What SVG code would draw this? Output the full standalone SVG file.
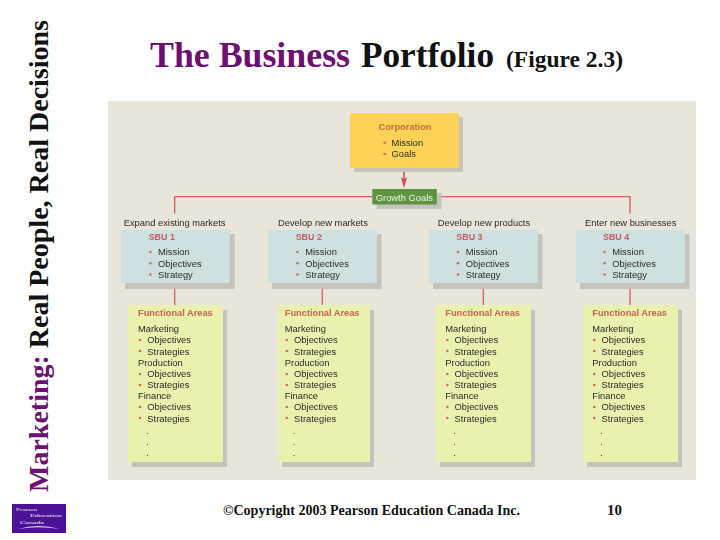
<svg xmlns="http://www.w3.org/2000/svg" width="720" height="540" viewBox="0 0 720 540">
<style>
.a{font-family:"Liberation Sans",Arial,sans-serif;font-size:9.35px;fill:#2b2b2b}
.h{font-family:"Liberation Sans",Arial,sans-serif;font-size:9.25px;font-weight:bold;fill:#c9654f}
.s{font-family:"Liberation Sans",Arial,sans-serif;font-size:8.9px;font-weight:bold;fill:#c95a64}
.t{font-family:"Liberation Serif","Times New Roman",serif;font-weight:bold}
.p{fill:#6e0f72}
.k{fill:#111}
.sh{fill:#c4c4bc}
.sbu{fill:#cfe0e0}
.fa{fill:#eaf0ae}
.b{fill:#d0705a}
.l{fill:none;stroke:#d6605c;stroke-width:1.3}
.lg{font-family:"Liberation Serif",serif;font-size:5px;fill:#eee}
</style>
<defs>
<filter id="soft" x="0" y="0" width="100%" height="100%"><feGaussianBlur stdDeviation="0.35"/></filter>
<g id="sbuBody">
<circle class="b" cx="0" cy="0" r="1.3"/><circle class="b" cx="0" cy="11.3" r="1.3"/><circle class="b" cx="0" cy="22.5" r="1.3"/>
<text class="a" x="7.7" y="3.2">Mission</text><text class="a" x="7.7" y="14.6">Objectives</text><text class="a" x="7.7" y="25.8">Strategy</text>
</g>
<g id="faBody">
<text class="h" x="0" y="0">Functional Areas</text>
<text class="a" x="0" y="16">Marketing</text>
<circle class="b" cx="2" cy="24" r="1.3"/><text class="a" x="9.300" y="27.300">Objectives</text>
<circle class="b" cx="2" cy="35" r="1.3"/><text class="a" x="9.300" y="38.500">Strategies</text>
<text class="a" x="0" y="49.800">Production</text>
<circle class="b" cx="2" cy="58" r="1.3"/><text class="a" x="9.300" y="61.200">Objectives</text>
<circle class="b" cx="2" cy="69" r="1.3"/><text class="a" x="9.300" y="72">Strategies</text>
<text class="a" x="0" y="83.300">Finance</text>
<circle class="b" cx="2" cy="91" r="1.3"/><text class="a" x="9.300" y="94.300">Objectives</text>
<circle class="b" cx="2" cy="102" r="1.3"/><text class="a" x="9.300" y="105.500">Strategies</text>
<text class="a" x="8" y="118">.</text><text class="a" x="8" y="129">.</text><text class="a" x="8" y="140">.</text>
</g>
</defs>
<rect width="720" height="540" fill="#fff"/>
<g id="header">
<text class="t" transform="translate(48 492) rotate(-90)" font-size="27" textLength="472" lengthAdjust="spacingAndGlyphs"><tspan class="p">Marketing:</tspan><tspan class="k"> Real People, Real Decisions</tspan></text>
<text class="t p" x="150" y="66.500" font-size="36" textLength="200" lengthAdjust="spacingAndGlyphs">The Business</text>
<text class="t k" x="361" y="66.500" font-size="36" textLength="133" lengthAdjust="spacingAndGlyphs">Portfolio</text>
<text class="t k" x="506" y="66.500" font-size="23" textLength="117" lengthAdjust="spacingAndGlyphs">(Figure 2.3)</text>
</g>
<g filter="url(#soft)">
<rect id="panel" x="108" y="101" width="588" height="379" fill="#e8e6da"/>
<g id="connectors">
<path class="l" d="M174.700 213.500V196.700H630V213.500"/>
<path class="l" d="M174.700 283V305M322.300 283V305M483.300 283V305M630 283V305"/>
<path d="M404 168V180" fill="none" stroke="#b9505c" stroke-width="1.5"/>
<path d="M400.800 177L404 179.500L407.200 177L404 188Z" fill="#cf4a55"/>
</g>
<g id="corporation">
<rect class="sh" x="354" y="117" width="109" height="55"/>
<rect x="350" y="113" width="109" height="55" fill="#fdd257"/>
<text class="h" x="378.500" y="130" style="fill:#c9683f">Corporation</text>
<circle class="b" cx="384.700" cy="142.700" r="1.3"/><circle class="b" cx="384.700" cy="154" r="1.3"/>
<text class="a" x="391.500" y="146">Mission</text><text class="a" x="391.500" y="157.300">Goals</text>
</g>
<g id="growth-goals">
<rect class="sh" x="376.500" y="193" width="65" height="16"/>
<rect x="372.300" y="189" width="64.500" height="15.500" fill="#5c9440"/>
<text x="375.800" y="200.600" font-family="'Liberation Sans',Arial,sans-serif" font-size="9.350" fill="#f2f5e8">Growth Goals</text>
</g>
<g id="sbu1"><text class="a" x="123.700" y="225.500">Expand existing markets</text><rect class="sh" x="125" y="234" width="109.500" height="55"/><rect class="sbu" x="121" y="230" width="109" height="53" rx="2"/><text class="s" x="148.700" y="240">SBU 1</text><use href="#sbuBody" x="150.300" y="252"/></g>
<g id="sbu2"><text class="a" x="278" y="225.500">Develop new markets</text><rect class="sh" x="272" y="234" width="109.500" height="55"/><rect class="sbu" x="268" y="230" width="109" height="53" rx="2"/><text class="s" x="295.700" y="240">SBU 2</text><use href="#sbuBody" x="297.500" y="252"/></g>
<g id="sbu3"><text class="a" x="437.700" y="225.500">Develop new products</text><rect class="sh" x="433" y="234" width="109.500" height="55"/><rect class="sbu" x="429" y="230" width="109" height="53" rx="2"/><text class="s" x="456.300" y="240">SBU 3</text><use href="#sbuBody" x="458" y="252"/></g>
<g id="sbu4"><text class="a" x="585" y="225.500">Enter new businesses</text><rect class="sh" x="580" y="234" width="109.500" height="55"/><rect class="sbu" x="576" y="230" width="109" height="53" rx="2"/><text class="s" x="603" y="240">SBU 4</text><use href="#sbuBody" x="604.500" y="252"/></g>
<g id="fa1"><rect class="sh" x="132" y="310" width="95" height="157"/><rect class="fa" x="128" y="305" width="95" height="157"/><use href="#faBody" x="138" y="316"/></g>
<g id="fa2"><rect class="sh" x="282" y="310" width="92" height="157"/><rect class="fa" x="278" y="305" width="92" height="157"/><use href="#faBody" x="284.800" y="316"/></g>
<g id="fa3"><rect class="sh" x="440" y="310" width="95" height="157"/><rect class="fa" x="435.500" y="305" width="95.500" height="157"/><use href="#faBody" x="445.300" y="316"/></g>
<g id="fa4"><rect class="sh" x="587" y="310" width="95" height="157"/><rect class="fa" x="583" y="305" width="95" height="157"/><use href="#faBody" x="592.300" y="316"/></g>
</g>
<g id="footer">
<rect x="12" y="504" width="54" height="29" fill="#4b1196"/>
<path d="M18 529Q38 523 60 529Q38 525.500 18 529Z" fill="#d8d0f0"/>
<text class="lg" x="16" y="511" textLength="21" lengthAdjust="spacingAndGlyphs">Pearson</text>
<text class="lg" x="30" y="517.300" textLength="32" lengthAdjust="spacingAndGlyphs">Education</text>
<text class="lg" x="20" y="523.600" textLength="24" lengthAdjust="spacingAndGlyphs">Canada</text>
<text class="t k" x="223" y="515" font-size="15" textLength="297" lengthAdjust="spacingAndGlyphs">©Copyright 2003 Pearson Education Canada Inc.</text>
<text class="t k" x="607" y="515" font-size="15" textLength="15" lengthAdjust="spacingAndGlyphs">10</text>
</g>
</svg>
